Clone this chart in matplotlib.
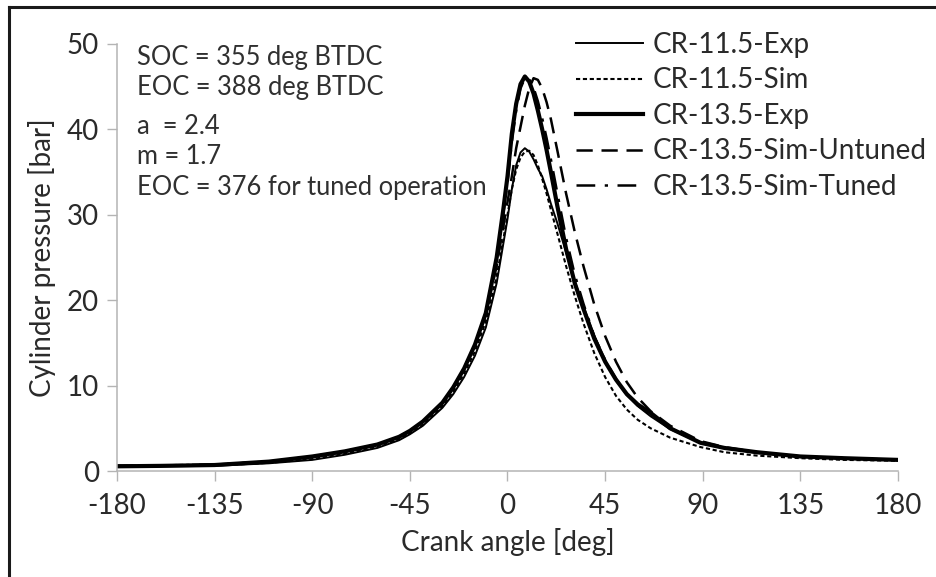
import matplotlib
matplotlib.use("Agg")
import matplotlib.pyplot as plt
from matplotlib.lines import Line2D

plt.rcParams["font.family"] = ["Lato", "DejaVu Sans"]
plt.rcParams["font.size"] = 20

# Crank angle samples [deg]
angle = [-180, -160, -135, -110, -90, -75, -60, -50, -45, -39, -30, -25, -20,
         -15, -10, -5, -2, 0, 2, 4, 6, 8, 10, 12, 14, 16, 18, 20, 23, 27,
         31, 35, 40, 45, 50, 55, 60, 66, 75, 89, 100, 115, 135, 155, 180]

# Cylinder pressure [bar]
cr115_exp = [0.5, 0.55, 0.6, 0.9, 1.3, 1.9, 2.7, 3.6, 4.3, 5.3, 7.4, 9.0, 11.0,
             13.5, 16.8, 22.0, 26.5, 29.5, 33.0, 35.8, 37.3, 37.8, 37.4, 36.5, 35.4, 34.5, 33.0, 31.3, 29.0, 25.6,
             22.2, 19.3, 15.8, 13.0, 10.6, 8.9, 7.6, 6.4, 4.9, 3.3, 2.7, 2.1, 1.7, 1.5, 1.3]
cr115_sim = [0.6, 0.6, 0.65, 0.95, 1.4, 2.0, 2.9, 3.7, 4.4, 5.4, 7.6, 9.3, 11.4,
             14.0, 17.5, 22.8, 27.0, 30.0, 33.0, 35.3, 36.7, 37.4, 37.5, 37.0, 35.8, 34.2, 32.5, 30.6, 27.8, 24.0,
             20.5, 17.3, 13.8, 11.0, 8.8, 7.2, 6.0, 5.0, 3.9, 2.8, 2.2, 1.8, 1.5, 1.3, 1.2]
cr135_exp = [0.55, 0.6, 0.7, 1.1, 1.7, 2.3, 3.1, 4.0, 4.7, 5.8, 8.0, 9.8, 12.0,
             14.8, 18.5, 25.0, 30.5, 34.5, 39.5, 43.0, 45.3, 46.2, 45.6, 44.2, 42.2, 40.0, 37.6, 35.0, 31.0, 26.0,
             22.0, 19.0, 15.5, 12.8, 10.7, 9.0, 7.8, 6.8, 5.0, 3.3, 2.7, 2.2, 1.7, 1.5, 1.3]
cr135_untuned = [0.6, 0.65, 0.75, 1.1, 1.7, 2.3, 3.1, 4.0, 4.7, 5.8, 8.0, 9.8, 12.0,
                 14.8, 18.3, 24.0, 28.5, 31.5, 34.5, 37.8, 40.3, 42.8, 44.8, 46.0, 45.8, 44.8, 43.2, 41.2, 37.5, 32.5,
                 28.0, 24.0, 19.5, 15.8, 12.8, 10.4, 8.6, 7.0, 5.3, 3.5, 2.8, 2.2, 1.7, 1.5, 1.3]
cr135_tuned = [0.6, 0.65, 0.75, 1.1, 1.7, 2.3, 3.1, 4.0, 4.7, 5.8, 8.0, 9.8, 12.0,
               14.8, 18.5, 24.8, 30.0, 33.8, 38.5, 42.2, 44.8, 46.0, 45.9, 44.9, 43.3, 41.3, 39.0, 36.5, 32.5, 27.3,
               23.0, 19.6, 15.8, 13.0, 10.8, 9.0, 7.7, 6.6, 5.0, 3.3, 2.7, 2.2, 1.7, 1.5, 1.3]

labels = ["CR-11.5-Exp", "CR-11.5-Sim", "CR-13.5-Exp",
          "CR-13.5-Sim-Untuned", "CR-13.5-Sim-Tuned"]
x_ticks = [-180, -135, -90, -45, 0, 45, 90, 135, 180]
y_ticks = [0, 10, 20, 30, 40, 50]

notes = ["SOC = 355 deg BTDC", "EOC = 388 deg BTDC", "a  = 2.4", "m = 1.7",
         "EOC = 376 for tuned operation"]

fig = plt.figure(figsize=(9.37, 5.77), dpi=100)
ax = fig.add_axes([117 / 937, 1 - 471 / 577, (898 - 117) / 937, (471 - 44) / 577])

ax.plot(angle, cr115_exp, color="black", lw=1.4, ls="-", label=labels[0])
ax.plot(angle, cr115_sim, color="black", lw=1.5, ls=(0, (2.0, 1.3)), label=labels[1])
ax.plot(angle, cr135_exp, color="black", lw=3.0, ls="-", label=labels[2])
ax.plot(angle, cr135_untuned, color="black", lw=1.8, ls=(0, (6.5, 3.5)), label=labels[3])
ax.plot(angle, cr135_tuned, color="black", lw=1.8, ls=(0, (7.5, 3.8, 1.3, 3.8)), label=labels[4])

ax.set_xlim(-180, 180)
ax.set_ylim(0, 50)
ax.set_xticks(x_ticks)
ax.set_xticklabels([str(v) for v in x_ticks])
ax.set_yticks(y_ticks)
ax.set_yticklabels([str(v) for v in y_ticks])

for side in ("top", "right"):
    ax.spines[side].set_visible(False)
for side in ("left", "bottom"):
    ax.spines[side].set_color("#b4b4b4")
    ax.spines[side].set_linewidth(1.1)
ax.tick_params(axis="both", direction="out", length=7, width=1.0,
               color="#b4b4b4", labelcolor="#2a2a2a", labelsize=20)
ax.tick_params(axis="x", pad=9)
ax.tick_params(axis="y", pad=6)

ax.set_xlabel("Crank angle [deg]", fontsize=20, color="#2a2a2a", labelpad=6)
ax.set_ylabel("Cylinder pressure [bar]", fontsize=20, color="#2a2a2a", labelpad=8)

leg = ax.legend(loc="upper left", bbox_to_anchor=(576 / 937, 1 - 32 / 577),
                bbox_transform=fig.transFigure, frameon=False, fontsize=20,
                handlelength=2.4, handletextpad=0.35, labelspacing=0.34,
                borderaxespad=0, borderpad=0)
for t in leg.get_texts():
    t.set_color("#2a2a2a")

note_y = [57, 87, 127, 157, 188]
for txt, yp in zip(notes, note_y):
    fig.text(137 / 937, 1 - yp / 577, txt, fontsize=18.4, color="#303030",
             va="center", ha="left")

# Outer frame lines along the top and left edges
fig.add_artist(Line2D([9 / 937, 9 / 937], [0, 1 - 7 / 577], transform=fig.transFigure,
                      color="#1a1a1a", lw=2.2))
fig.add_artist(Line2D([9 / 937, 1], [1 - 7 / 577, 1 - 7 / 577], transform=fig.transFigure,
                      color="#1a1a1a", lw=2.2))

fig.savefig("out.png", dpi=100)
